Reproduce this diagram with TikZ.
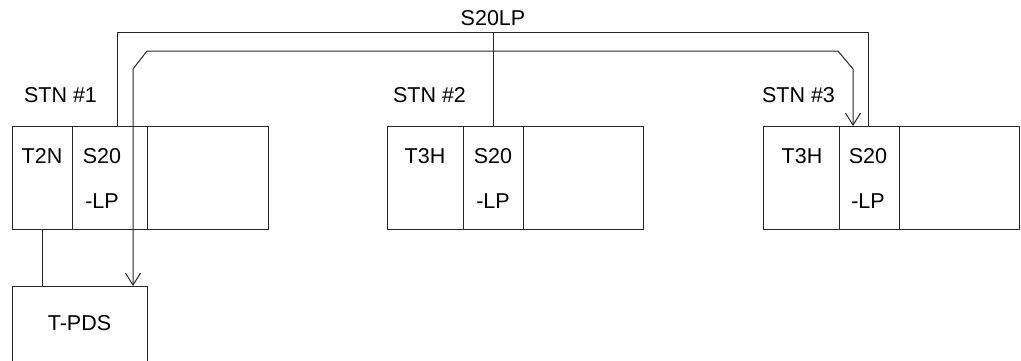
\documentclass[tikz,border=0pt]{standalone}
\usepackage{fontspec}
\setmainfont{Liberation Sans}
\usetikzlibrary{arrows.meta}
\begin{document}
\begin{tikzpicture}[x=1pt,y=-1pt,
  ln/.style={draw=black!85,line width=1pt},
  stbox/.style={ln,rectangle,inner sep=0pt,minimum width=256pt,minimum height=103pt,anchor=north west},
  lbl/.style={font=\fontsize{21.5}{24}\selectfont,anchor=base,inner sep=0pt},
  arr/.style={{Straight Barb[length=12pt,width=15pt]}-{Straight Barb[length=12pt,width=15pt]}}]
\useasboundingbox (0,0) rectangle (1021,360);
% stations
\node[stbox] (st1) at (12,126) {};
\node[stbox] (st2) at (387,126) {};
\node[stbox] (st3) at (763,126) {};
% cell dividers
\draw[ln] (72,126) -- (72,229) (147,126) -- (147,229);
\draw[ln] (463,126) -- (463,229) (523,126) -- (523,229);
\draw[ln] (839,126) -- (839,229) (899,126) -- (899,229);
% T-PDS box (bottom cut off)
\coordinate (pdsTL) at (12,286);
\coordinate (pdsTR) at (147,286);
\draw[ln] (12,362) -- (pdsTL) -- (pdsTR) -- (147,362);
% labels
\node[lbl] (s20lp) at (493,25) {S20LP};
\node[lbl] (stn1) at (60.5,102) {STN \#1};
\node[lbl] (stn2) at (429.5,102) {STN \#2};
\node[lbl] (stn3) at (798.5,102) {STN \#3};
\node[lbl] (t2n) at (42,163) {T2N};
\node[lbl] (a20) at (102,163) {S20};
\node[lbl] (alp) at (102,208) {-LP};
\node[lbl] (t3h2) at (425,163) {T3H};
\node[lbl] (b20) at (493,163) {S20};
\node[lbl] (blp) at (493,208) {-LP};
\node[lbl] (t3h3) at (802,163) {T3H};
\node[lbl] (c20) at (868,163) {S20};
\node[lbl] (clp) at (868,208) {-LP};
\node[lbl] (tpds) at (79.5,330) {T-PDS};
% connectors
\coordinate (pdsIn) at (133,286);
\coordinate (st3In) at (853,126);
\draw[ln] (42,229) -- (42,286);
\draw[ln] (117,126) -- (117,32) -- (868.5,32) -- (868.5,126);
\draw[ln] (493,32) -- (493,126);
\draw[ln,arr] (pdsIn) -- (133,69) -- (147,51) -- (838,51) -- (853,69) -- (st3In);
\end{tikzpicture}
\end{document}
